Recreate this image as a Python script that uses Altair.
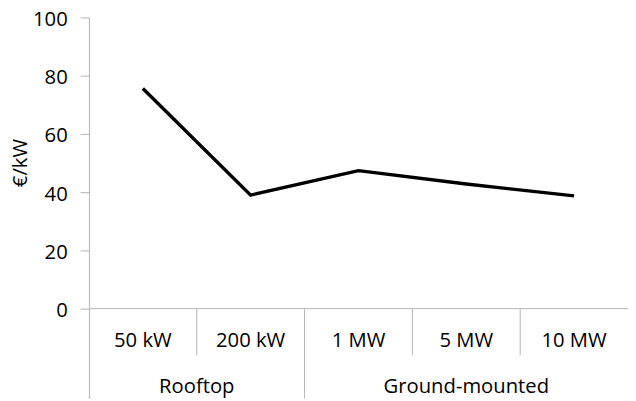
import altair as alt
import pandas as pd

categories = ["50 kW", "200 kW", "1 MW", "5 MW", "10 MW"]
groups = ["Rooftop", "Rooftop", "Ground-mounted", "Ground-mounted", "Ground-mounted"]
values = [75.6, 39.0, 47.4, 42.8, 38.7]
y_ticks = [0, 20, 40, 60, 80, 100]
y_title = "€/kW"

# layout constants (data units of the y scale)
Y_MIN = -30.85
LABEL_Y = -13.3
GROUP_Y = -28.9
SHORT_Y = -16.0
FONT = "Open Sans"
FS = 20.5
GRAY = "#b3b3b3"

n = len(categories)
pts = pd.DataFrame({
    "cat": categories,
    "group": groups,
    "value": values,
    "pos": [i + 0.5 for i in range(n)],
    "ly": [LABEL_Y] * n,
})

# group spans
grp_rows = []
start = 0
for i in range(1, n + 1):
    if i == n or groups[i] != groups[start]:
        grp_rows.append({"group": groups[start], "center": (start + i) / 2, "gy": GROUP_Y})
        start = i
grp = pd.DataFrame(grp_rows)

# dividers
div_rows = []
for i in range(1, n):
    long = groups[i - 1] != groups[i]
    div_rows.append({"x": i, "y": 0, "y2": Y_MIN if long else SHORT_Y})
divs = pd.DataFrame(div_rows)

base_rule = pd.DataFrame({"x": [0], "x2": [n], "y": [0]})
title_df = pd.DataFrame({"t": [y_title], "ty": [(min(y_ticks) + max(y_ticks)) / 2]})

xs = alt.Scale(domain=[0, n], nice=False, zero=False)
ys = alt.Scale(domain=[Y_MIN, 100], nice=False, zero=False)
yaxis = alt.Axis(
    values=y_ticks, title=None, grid=False, domain=True, domainColor=GRAY,
    tickColor=GRAY, tickSize=9, labelPadding=13, labelFont=FONT, labelFontSize=FS,
    labelColor="black", labelBaseline="alphabetic", labelOffset=8,
)


def X(f):
    return alt.X(f, type="quantitative", scale=xs, axis=None)


def Y(f):
    return alt.Y(f, type="quantitative", scale=ys, axis=yaxis)


line = alt.Chart(pts).mark_line(color="black", strokeWidth=3.4).encode(
    x=X("pos"), y=Y("value"),
)

hrule = alt.Chart(base_rule).mark_rule(color=GRAY, strokeWidth=1).encode(
    x=X("x"), x2="x2:Q", y=Y("y")
)

vrules = alt.Chart(divs).mark_rule(color=GRAY, strokeWidth=1).encode(
    x=X("x"), y=Y("y"), y2="y2:Q"
)

cat_text = alt.Chart(pts).mark_text(font=FONT, fontSize=FS, color="black",
                                    baseline="alphabetic", align="center").encode(
    x=X("pos"), y=Y("ly"), text="cat:N"
)

grp_text = alt.Chart(grp).mark_text(font=FONT, fontSize=FS, color="black",
                                    baseline="alphabetic", align="center").encode(
    x=X("center"), y=Y("gy"), text="group:N"
)

title_text = alt.Chart(title_df).mark_text(font=FONT, fontSize=FS, color="black",
                                           baseline="alphabetic", align="center",
                                           angle=270).encode(
    x=alt.value(-63), y=Y("ty"), text="t:N"
)

chart = alt.layer(hrule, vrules, cat_text, grp_text, title_text, line).properties(
    width=546, height=386,
    background="white",
    autosize=alt.AutoSizeParams(type="none"),
    padding={"left": 82, "top": 7, "right": 0, "bottom": 0},
).configure_view(stroke=None)

chart.save("out.html", embed_options={"renderer": "svg", "actions": False})
